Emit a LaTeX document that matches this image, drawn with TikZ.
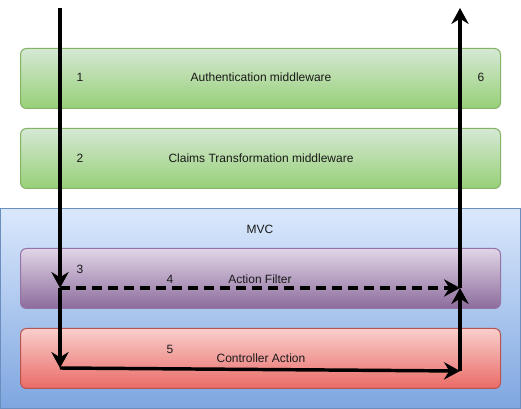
\documentclass[tikz,border=0pt]{standalone}
\usepackage{fontspec}
\setmainfont{Liberation Sans}
\usetikzlibrary{arrows.meta}
\definecolor{gtop}{HTML}{D5E8D4}\definecolor{gbot}{HTML}{97D077}\definecolor{gbrd}{HTML}{82B366}
\definecolor{btop}{HTML}{DAE8FC}\definecolor{bbot}{HTML}{7EA6E0}\definecolor{bbrd}{HTML}{6C8EBF}
\definecolor{ptop}{HTML}{E1D5E7}\definecolor{pbot}{HTML}{8C6C9C}\definecolor{pbrd}{HTML}{9673A6}
\definecolor{rtop}{HTML}{F8CECC}\definecolor{rbot}{HTML}{EA6B66}\definecolor{rbrd}{HTML}{B85450}
\definecolor{txt}{HTML}{1A1A1A}
\tikzset{
  lay/.style={draw, rounded corners=4.5pt, minimum width=360pt, minimum height=45pt, line width=0.75pt, inner sep=0pt},
  green/.style={lay, top color=gtop, bottom color=gbot, draw=gbrd},
  purple/.style={lay, top color=ptop, bottom color=pbot, draw=pbrd},
  red/.style={lay, top color=rtop, bottom color=rbot, draw=rbrd},
  lbl/.style={font=\fontsize{9pt}{11pt}\selectfont, text=txt, inner sep=0pt},
  flow/.style={line width=2.6pt, -{Stealth[length=12pt,width=13pt,inset=4pt]}},
}
\begin{document}
\begin{tikzpicture}[x=0.75pt,y=-0.75pt]
\useasboundingbox (0,0) rectangle (521,409);
\fill[white] (0,0) rectangle (521,409);
% MVC container
\node[draw=bbrd, top color=btop, bottom color=bbot, line width=0.75pt, minimum width=390pt, minimum height=150pt, inner sep=0pt] (mvc) at (260.5,308.5) {};
\node[lbl] (mvct) at (260,229) {MVC};
% layers
\node[green] (b1) at (260.5,78.5) {};
\node[green] (b2) at (260.5,158.5) {};
\node[purple] (af) at (260.5,278.5) {};
\node[red] (ca) at (260.5,358.5) {};
% labels
\node[lbl] (t1) at (80,77) {1};
\node[lbl] (tb1) at (261,77) {Authentication middleware};
\node[lbl] (t6) at (481,77) {6};
\node[lbl] (t2) at (80,158) {2};
\node[lbl] (tb2) at (261,158) {Claims Transformation middleware};
\node[lbl] (t3) at (80,269) {3};
\node[lbl] (t4) at (170,279) {4};
\node[lbl] (taf) at (260,279) {Action Filter};
\node[lbl] (t5) at (170,349) {5};
\node[lbl] (tca) at (261,358) {Controller Action};
% flow points
\coordinate (in) at (60,8);
\coordinate (p3) at (60,288);
\coordinate (p5) at (60,368);
\coordinate (q4) at (460,288);
\coordinate (q5) at (460,371);
\coordinate (out) at (460,8);
\draw[flow] (in) -- (p3);
\draw[flow] (p3) -- (p5);
\draw[flow, dash pattern=on 7.5pt off 4.5pt] (p3) -- (q4);
\draw[flow] (p5) -- (q5);
\draw[flow] (q5) -- (q4);
\draw[flow] (q4) -- (out);
\end{tikzpicture}
\end{document}
